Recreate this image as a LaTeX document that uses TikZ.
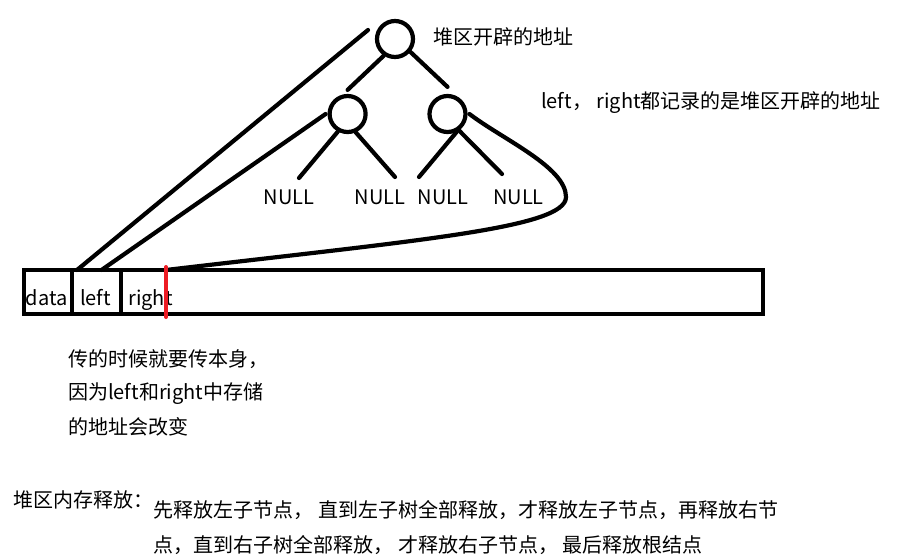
\documentclass[tikz,border=0pt]{standalone}
\usepackage{fontspec}
\setmainfont{Noto Sans CJK SC}
\definecolor{redline}{RGB}{237,28,36}
\begin{document}
\begin{tikzpicture}[x=1pt,y=-1pt,
  every node/.style={font=\fontsize{20}{24}\selectfont},
  treenode/.style={circle, draw, line width=4.2pt, minimum size=36pt, inner sep=0pt},
  nulltxt/.style={inner sep=0pt, anchor=base},
  txt/.style={inner sep=0pt, anchor=base west},
  cell/.style={draw, line width=4.2pt, inner sep=0pt, outer sep=0pt, minimum height=44pt},
  link/.style={line width=4.2pt, line cap=round}]
\useasboundingbox[fill=white] (0,0) rectangle (909,558);

% tree
\node[treenode] (root) at (395,39) {};
\node[treenode] (lc) at (347.6,114) {};
\node[treenode] (rc) at (447.5,114) {};
\node[nulltxt] (n1) at (289,204) {NULL};
\node[nulltxt] (n2) at (380,204) {NULL};
\node[nulltxt] (n3) at (443,204) {NULL};
\node[nulltxt] (n4) at (518.5,204) {NULL};

\draw[link] (root.-124) -- ([yshift=4pt]lc.north);
\draw[link] (root.-40) -- ([yshift=7pt]rc.north);
\draw[link] (lc.-119) -- ([xshift=10pt,yshift=26pt]n1.base);
\draw[link] (lc.-66) -- ([xshift=15pt,yshift=27pt]n2.base);
\draw[link] (rc.-63) -- ([xshift=-24pt,yshift=27pt]n3.base);
\draw[link] (rc.-55) -- ([xshift=-16.5pt,yshift=30pt]n4.base);

% memory block
\node[cell, minimum width=48pt] (datacell) at (48,292) {};
\node[cell, minimum width=49pt] (leftcell) at (96.5,292) {};
\node[cell, minimum width=45pt] (rightcell) at (143.5,292) {};
\node[cell, minimum width=597pt] (restcell) at (464.5,292) {};

\node[nulltxt] (tdata) at (46.5,305) {data};
\node[nulltxt] (tleft) at (95.5,305) {left};
\node[nulltxt] (tright) at (150.5,305) {right};

% pointers
\draw[link] ([xshift=-27pt,yshift=9pt]root.center) -- ([xshift=5pt]leftcell.north west);
\draw[link] ([xshift=-22pt]lc.center) -- ([xshift=5pt]leftcell.north);
\coordinate (bend) at (566,197);
\draw[link] ([xshift=22pt]rc.center) .. controls (502,139) and (566,167) .. (bend)
  .. controls (566,228) and (420,240) .. (rightcell.north east);

\draw[line width=4pt, redline, line cap=round] ([yshift=3pt]rightcell.north east) -- ([yshift=-3pt]rightcell.south east);

% texts
\node[txt] (heap) at (433,44.6) {堆区开辟的地址};
\node[txt] (note1) at (541,108.6) {left，\ right都记录的是堆区开辟的地址};
\node[txt] (p1) at (68,366.6) {传的时候就要传本身，};
\node[txt] (p2) at (68,399.6) {因为left和right中存储};
\node[txt] (p3) at (68,434.6) {的地址会改变};
\node[txt] (free) at (13,507.6) {堆区内存释放：};
\node[txt] (f1) at (153.6,517.6) {先释放左子节点，\ 直到左子树全部释放，才释放左子节点，再释放右节};
\node[txt] (f2) at (153.6,552.6) {点，直到右子树全部释放，\ 才释放右子节点，\ 最后释放根结点};
\end{tikzpicture}
\end{document}
